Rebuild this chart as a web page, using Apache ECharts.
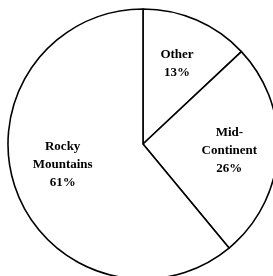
<!DOCTYPE html>
<html lang="en">
<head>
    <meta charset="UTF-8">
    <title>Pie</title>
    <style>
        body, html { margin: 0; padding: 0; background: #fff; }
    </style>
</head>
<body>
<div id="main" style="width: 273px; height: 276px;"></div>
<script src="https://cdn.jsdelivr.net/npm/echarts@6/dist/echarts.min.js"></script>
<script>
    var regions = ['Other', 'Mid-Continent', 'Rocky Mountains'];
    var shares = [13, 26, 61];
    // nudges to put the labels where the original has them
    var labelOffsets = [[6, -16], [16, 2], [-14, -3]];

    var myChart = echarts.init(document.getElementById('main'));

    myChart.setOption({
        backgroundColor: '#fff',
        animation: false,
        series: [{
            type: 'pie',
            center: [143, 144],
            radius: 135,
            startAngle: 90,
            clockwise: true,
            itemStyle: {
                color: '#fff',
                borderColor: '#000',
                borderWidth: 1.6
            },
            label: {
                position: 'inside',
                color: '#000',
                fontFamily: 'Liberation Serif',
                fontWeight: 'bold',
                fontSize: 13,
                lineHeight: 18,
                align: 'center',
                formatter: function (p) {
                    var n = p.name.replace('Mid-', 'Mid-\n').replace(' ', '\n');
                    return n + '\n' + p.value + '%';
                }
            },
            labelLine: { show: false },
            emphasis: { disabled: true },
            data: regions.map(function (r, i) {
                return { name: r, value: shares[i], label: { offset: labelOffsets[i] } };
            })
        }]
    });
</script>
</body>
</html>
